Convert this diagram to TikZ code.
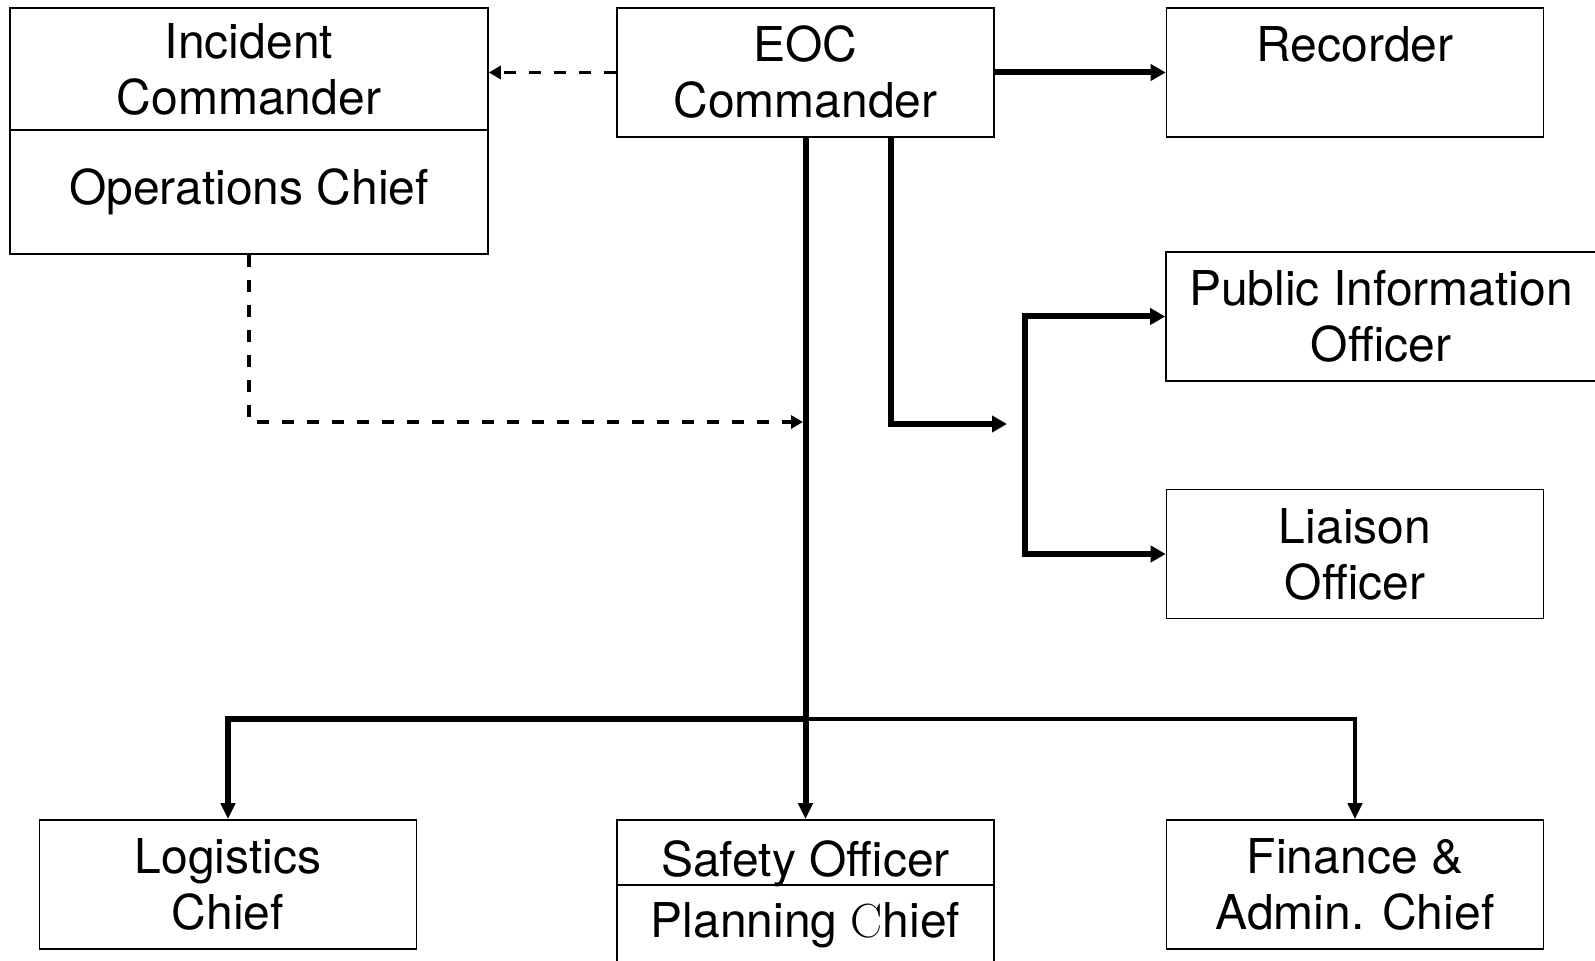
\documentclass[tikz,border=0pt]{standalone}
\usepackage{fontspec}
\setmainfont{TeX Gyre Heros}
\newfontfamily\lmserif{Latin Modern Roman}
\usetikzlibrary{arrows.meta}

\begin{document}
\begin{tikzpicture}[x=0.5pt,y=-0.5pt]
                \tikzstyle{every node}+=[inner sep=0pt]
                \tikzstyle{box}=[draw=black, line width=0.8pt, rectangle, align=center,
                  font=\fontsize{24}{28}\selectfont, minimum width=188.5pt, minimum height=64.5pt]
                \tikzstyle{link}=[black, line width=3pt, -{Triangle[length=7.5pt,width=8pt]}]
                \tikzstyle{branch}=[black, line width=2.3pt, -{Triangle[length=8pt,width=7pt]}]
                \tikzstyle{dashlink}=[black, line width=1.8pt, dash pattern=on 6pt off 6.5pt,
                  -{Triangle[length=6pt,width=6.5pt]}]
                \useasboundingbox (0,0) rectangle (1595,961);
                % top row
                \node[box, minimum width=239pt, minimum height=61pt, yshift=0pt] (inc) at (249,69) {Incident\\Commander};
                \node[box, minimum width=239pt, minimum height=62pt] (ops) at (249,192) {Operations Chief};
                \node[box] (eoc) at (805.5,72.5) {EOC\\Commander};
                \node[box] (rec) at (1355,72.5) {Recorder\\~};
                % right column
                \node[box, minimum width=215pt] (pio) at (1381,316.5) {Public Information\\Officer};
                \node[box] (lia) at (1355,554) {Liaison\\Officer};
                % bottom row
                \node[box] (log) at (228,884.5) {Logistics\\Chief};
                \node[box, minimum height=32.5pt, text height=24pt, text depth=0pt] (saf) at (805.5,852.5) {Safety Officer};
                \node[box, minimum height=40pt] (pln) at (805.5,925) {Planning {\lmserif C}hief};
                \node[box] (fin) at (1355,884.5) {Finance \&\\Admin. Chief};
                % helper points
                \coordinate (bar) at (805.5,719);
                \coordinate (meet) at (803,422);
                \coordinate (tap) at (891,0);
                \coordinate (turn) at (1007,424);
                \coordinate (fork) at (1025,430);
                % connectors
                \draw[dashlink] (eoc.west) -- (inc.east |- eoc.west);
                \draw[link] (eoc.east) -- (rec.west);
                \draw[dashlink] (ops.south) |- (meet);
                \draw[link] (eoc.south -| tap) |- (turn);
                \draw[link, {Triangle[length=7.5pt,width=8pt]}-{Triangle[length=7.5pt,width=8pt]}] (pio.west) -| (fork) |- (lia.west);
                \draw[branch, line width=3pt] (eoc.south) -- (saf.north);
                \draw[branch, line width=3pt] (bar) -| (log.north);
                \draw[branch] (bar) -| (fin.north);
            \end{tikzpicture}
\end{document}
